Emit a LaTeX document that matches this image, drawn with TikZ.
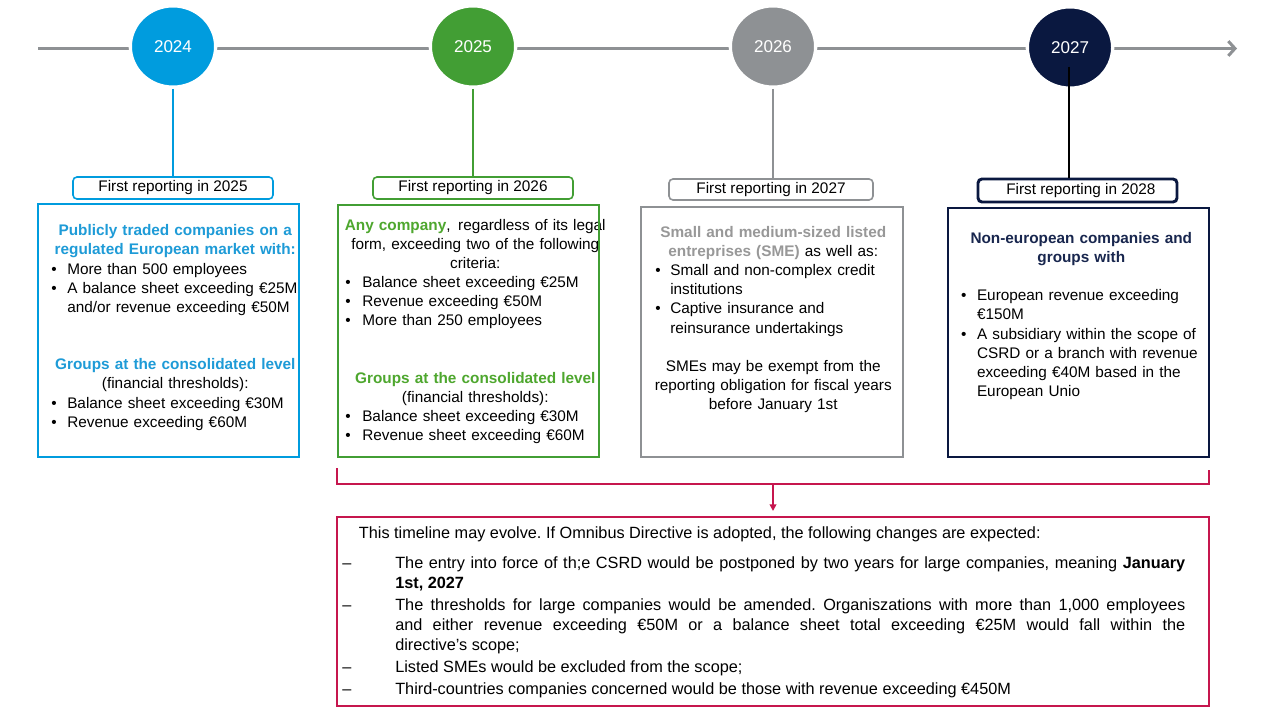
\documentclass[tikz,border=0pt]{standalone}
\usepackage{fontspec}
\setmainfont{Liberation Sans}
\usetikzlibrary{arrows.meta,shapes.geometric,calc}
\definecolor{cblue}{RGB}{0,156,222}
\definecolor{tblue}{RGB}{30,155,215}
\definecolor{cgreen}{RGB}{66,158,52}
\definecolor{tgreen}{RGB}{78,167,46}
\definecolor{cgray}{RGB}{142,145,148}
\definecolor{tgray}{RGB}{152,152,152}
\definecolor{cnavy}{RGB}{10,24,64}
\definecolor{tnavy}{RGB}{24,38,78}
\definecolor{crim}{RGB}{198,22,78}
\hyphenpenalty=10000
\exhyphenpenalty=10000
\frenchspacing
\newlength\myBo
\newlength\myBh
\newcommand\bul{\par\noindent\hangindent=\myBh\hangafter=1\makebox[\myBh][l]{\hspace*{\myBo}\textbullet}\ignorespaces}
\newcommand\dashitem{\par\noindent\hangindent=39.75pt\hangafter=1\makebox[39.75pt][l]{–}\ignorespaces}
\begin{document}
\begin{tikzpicture}[x=0.75pt,y=-0.75pt,
  txt/.style={inner sep=0pt, font=\fontsize{11.5pt}{14.37pt}\selectfont},
  year/.style={ellipse, minimum width=64pt, minimum height=61pt, draw=white, line width=2.5pt, text=white, font=\fontsize{12.8pt}{15pt}\selectfont, inner sep=0pt},
  lab/.style={rounded corners=3pt, line width=1.2pt, inner sep=0pt, font=\fontsize{11.5pt}{14pt}\selectfont, fill=white},
  box/.style={draw, line width=1.5pt, inner sep=0pt},
  vline/.style={line width=1.2pt}]
\path[use as bounding box, fill=white] (0,0) rectangle (1280,720);

% timeline
\coordinate (tl0) at (38,48.5);
\coordinate (tl1) at (1237,48.5);
\draw[cgray, line width=2.25pt, -{Straight Barb[length=5pt,width=11pt]}] (tl0) -- (tl1);

\node[year, fill=cblue] (c1) at (173,46.5) {2024};
\node[year, fill=cgreen] (c2) at (473,46.5) {2025};
\node[year, fill=cgray] (c3) at (773,46.5) {2026};
\node[year, fill=cnavy] (c4) at (1070,47.5) {2027};

% labels
\node[lab, draw=cblue, minimum width=150pt, minimum height=16.5pt] (l1) at (173,188) {First reporting in 2025};
\node[lab, draw=cgreen, minimum width=150pt, minimum height=16.5pt] (l2) at (473,188) {First reporting in 2026};
\node[lab, draw=cgray, minimum width=153pt, minimum height=15.75pt] (l3) at (771,189.5) {First reporting in 2027};
\node[lab, draw=cnavy, line width=2.2pt, minimum width=149.25pt, minimum height=17.25pt] (l4) at (1077.5,190.5) {\hspace*{5pt}First reporting in 2028};

% vertical connectors
\draw[vline, cblue] (c1.south) -- (c1.south |- l1.north);
\draw[vline, cgreen] (c2.south) -- (c2.south |- l2.north);
\draw[vline, cgray] (c3.south) -- (c3.south |- l3.north);
\coordinate (c4in) at (1069,67);
\draw[vline, black, line width=1.5pt] (c4in) -- (c4in |- l4.north);

% box texts
\node[txt, text width=196.5pt, anchor=base west] (t1) at (44,235.7) {\setlength\myBo{5.25pt}\setlength\myBh{17.25pt}%
\leavevmode{\centering\bfseries\color{tblue}Publicly traded companies on a\\regulated European market with:\par}
\bul More than 500 employees
\bul A balance sheet exceeding €25M\newline and/or revenue exceeding €50M\par
\vspace{28.74pt}
\leavevmode{\centering{\bfseries\color{tblue}Groups at the consolidated level}\\(financial thresholds):\par}
\bul Balance sheet exceeding €30M
\bul Revenue exceeding €60M\par};

\node[txt, text width=202.5pt, anchor=base west] (t2) at (340,230) {\setlength\myBo{3.75pt}\setlength\myBh{16.5pt}%
\leavevmode{\centering{\bfseries\color{tgreen}Any company},\ \,regardless of its legal\\form, exceeding two of the following\\criteria:\par}
\bul Balance sheet exceeding €25M
\bul Revenue exceeding €50M
\bul More than 250 employees\par
\vspace{28.74pt}
\leavevmode{\centering{\bfseries\color{tgreen}Groups at the consolidated level}\\(financial thresholds):\par}
\bul Balance sheet exceeding €30M
\bul Revenue sheet exceeding €60M\par};

\node[txt, text width=192pt, anchor=base west] (t3) at (645,237.3) {\setlength\myBo{7.5pt}\setlength\myBh{18.75pt}%
\leavevmode{\centering{\bfseries\color{tgray}Small and medium-sized listed\\entreprises (SME)} as well as:\par}
\bul Small and non-complex credit\newline institutions
\bul Captive insurance and\newline reinsurance undertakings\par
\vspace{14.37pt}
\leavevmode{\centering SMEs may be exempt from the\\reporting obligation for fiscal years\\before January 1st\par}};

\node[txt, text width=189pt, anchor=base west] (t4) at (955,243.3) {\setlength\myBo{4.3pt}\setlength\myBh{16.3pt}%
\leavevmode{\centering\bfseries\color{tnavy}Non-european companies and\\groups with\par}
\vspace{14.37pt}
\bul European revenue exceeding\newline €150M
\bul A subsidiary within the scope of\newline CSRD or a branch with revenue\newline exceeding €40M based in the\newline European Unio\par};

% boxes
\node[box, draw=cblue, minimum width=195.75pt, minimum height=189.75pt] (b1) at (168.5,330.5) {};
\node[box, draw=cgreen, minimum width=195.75pt, minimum height=189pt] (b2) at (468.5,331) {};
\node[box, draw=cgray, minimum width=196.5pt, minimum height=187.5pt] (b3) at (772,332) {};
\node[box, draw=cnavy, minimum width=195.75pt, minimum height=186.75pt] (b4) at (1078.5,332.5) {};

% bottom box
\node[box, draw=crim, minimum width=654pt, minimum height=141.75pt] (bot) at (773,611.5) {};
\node[txt, text width=632.25pt, align=justify, anchor=base west, font=\fontsize{12.2pt}{15pt}\selectfont] (tb) at (342,538) {\setlength\parskip{1.5pt}\leftskip=0pt\rightskip=0pt\parfillskip=0pt plus 1fil\spaceskip=0pt\xspaceskip=0pt\tolerance=10000%
\noindent\hspace*{12.5pt}This timeline may evolve. If Omnibus Directive is adopted, the following changes are expected:\par
\vspace{6pt}
\dashitem The entry into force of th;e CSRD would be postponed by two years for large companies, meaning \textbf{January\linebreak 1st, 2027}\par
\dashitem The thresholds for large companies would be amended. Organiszations with more than 1,000 employees\linebreak and either revenue exceeding €50M or a balance sheet total exceeding €25M would fall within the\linebreak directive’s scope;\par
\dashitem Listed SMEs would be excluded from the scope;\par
\dashitem Third-countries companies concerned would be those with revenue exceeding €450M\par};

% bracket
\coordinate (brL) at (337,468);
\coordinate (brR) at (1209,470);
\coordinate (brM) at (773,483.5);
\draw[crim, line width=1.5pt] (brL) |- (brM) -| (brR);
\draw[crim, line width=1.2pt, -{Triangle[length=5pt,width=5pt]}, shorten >=3.75pt] (brM) -- (brM |- bot.north);
\end{tikzpicture}
\end{document}
